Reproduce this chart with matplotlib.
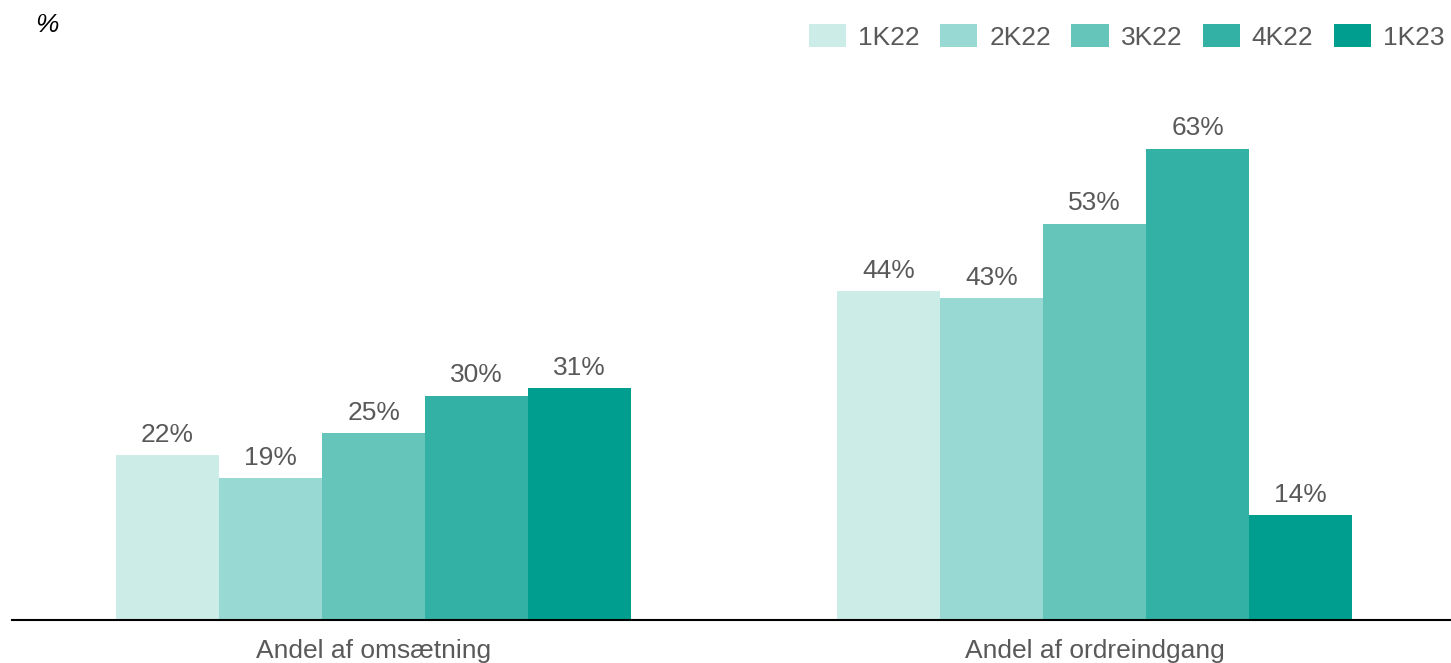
import matplotlib.pyplot as plt
import numpy as np

plt.rcParams["font.family"] = ["Liberation Sans", "DejaVu Sans"]

categories = ["Andel af omsætning", "Andel af ordreindgang"]
quarters = ["1K22", "2K22", "3K22", "4K22", "1K23"]
values = [
    [22, 44],
    [19, 43],
    [25, 53],
    [30, 63],
    [31, 14],
]
colors = ["#CCEDE7", "#99D9D3", "#66C5BB", "#33B1A5", "#009E8E"]
text_grey = "#595959"

fig = plt.figure(figsize=(14.51, 6.63), dpi=100)
ax = fig.add_axes([12 / 1451, 43 / 663, 1 - 12 / 1451, 540 / 663])

x = np.arange(len(categories))
width = 0.1429
for i, (q, vals) in enumerate(zip(quarters, values)):
    pos = x + (i - 2) * width
    bars = ax.bar(pos, vals, width=width, color=colors[i], label=q)
    for b, v in zip(bars, vals):
        ax.annotate(f"{v}%", (b.get_x() + b.get_width() / 2, v),
                    xytext=(0, 6), textcoords="offset points",
                    ha="center", va="bottom", fontsize=19, color=text_grey)

ax.set_xlim(-0.5014, 1.494)
ax.set_ylim(0, 72.2)
ax.set_xticks(x)
ax.set_xticklabels(categories, fontsize=19, color=text_grey)
ax.tick_params(axis="x", length=0, pad=14)
ax.set_yticks([])
for s in ["top", "right", "left"]:
    ax.spines[s].set_visible(False)
ax.spines["bottom"].set_linewidth(1.5)
ax.spines["bottom"].set_color("black")

fig.text(47 / 1451, 1 - 25 / 663, "%", fontsize=19, style="italic",
         ha="center", va="center", color="black")

fig.legend(loc="upper right", bbox_to_anchor=(1.012, 0.999), ncol=5,
           frameon=False, fontsize=19, handlelength=1.42, handleheight=0.95,
           handletextpad=0.45, columnspacing=0.77, labelcolor=text_grey)

fig.savefig("out.png", dpi=100)
